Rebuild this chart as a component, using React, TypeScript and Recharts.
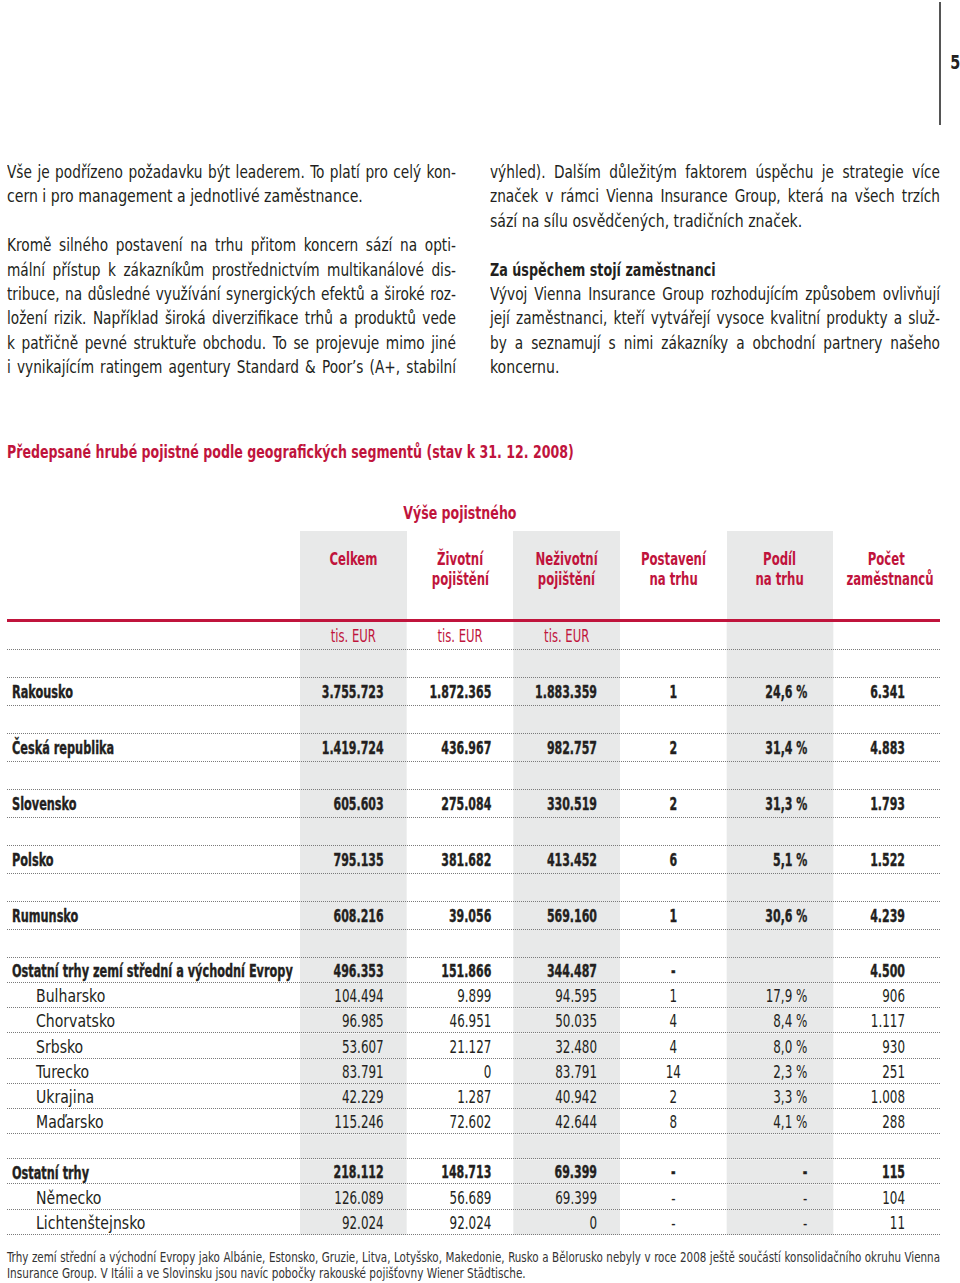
import React from "react";
import { BarChart, Bar, XAxis, YAxis } from "recharts";

const FONT = '"Liberation Sans Narrow", "Arial Narrow", "DejaVu Sans Condensed", sans-serif';
const RED = "#c0143c";
const GREY = "#e8e9e9";
const TEXT = "#231f20";
const DOT = "#7a7a7a";

// horizontal condensing factors (to imitate a condensed face)
const S_PROSE = 0.895;
const S_PROSE_J = 0.87;
const S_BOLD_HEAD = 0.81;
const S_TITLE = 0.80;
const S_COLHEAD = 0.765;
const S_UNIT = 0.76;
const S_NAME_BOLD = 0.74;
const S_NAME_REG = 0.92;
const S_NUM_BOLD = 0.72;
const S_NUM_REG = 0.78;
const S_FOOT = 0.865;
const S_FOOT_J = 0.85;

// ---------- data ----------
const regions = [
  "Rakousko",
  "Česká republika",
  "Slovensko",
  "Polsko",
  "Rumunsko",
  "Ostatní trhy zemí střední a východní Evropy",
  "Bulharsko",
  "Chorvatsko",
  "Srbsko",
  "Turecko",
  "Ukrajina",
  "Maďarsko",
  "Ostatní trhy",
  "Německo",
  "Lichtenštejnsko",
];
const regionLevel = [0, 0, 0, 0, 0, 0, 1, 1, 1, 1, 1, 1, 0, 1, 1];
const celkem = [3755723, 1419724, 605603, 795135, 608216, 496353, 104494, 96985, 53607, 83791, 42229, 115246, 218112, 126089, 92024];
const zivotni = [1872365, 436967, 275084, 381682, 39056, 151866, 9899, 46951, 21127, 0, 1287, 72602, 148713, 56689, 92024];
const nezivotni = [1883359, 982757, 330519, 413452, 569160, 344487, 94595, 50035, 32480, 83791, 40942, 42644, 69399, 69399, 0];
const postaveni: (number | string)[] = [1, 2, 2, 6, 1, "-", 1, 4, 4, 14, 2, 8, "-", "-", "-"];
const podil: (number | string | null)[] = [24.6, 31.4, 31.3, 5.1, 30.6, null, 17.9, 8.4, 8.0, 2.3, 3.3, 4.1, "-", "-", "-"];
const pocet = [6341, 4883, 1793, 1522, 4239, 4500, 906, 1117, 930, 251, 1008, 288, 115, 104, 11];

const columnHeaders = [["Celkem"], ["Životní", "pojištění"], ["Neživotní", "pojištění"], ["Postavení", "na trhu"], ["Podíl", "na trhu"], ["Počet", "zaměstnanců"]];
const columnUnits = ["tis. EUR", "tis. EUR", "tis. EUR", "", "", ""];

const leftParagraphs = [
  ["Vše je podřízeno požadavku být leaderem. To platí pro celý kon-", "cern i pro management a jednotlivé zaměstnance."],
  [
    "Kromě silného postavení na trhu přitom koncern sází na opti-",
    "mální přístup k zákazníkům prostřednictvím multikanálové dis-",
    "tribuce, na důsledné využívání synergických efektů a široké roz-",
    "ložení rizik. Například široká diverzifikace trhů a produktů vede",
    "k patřičně pevné struktuře obchodu. To se projevuje mimo jiné",
    "i vynikajícím ratingem agentury Standard & Poor’s (A+, stabilní",
  ],
];
const rightParagraphs = [
  ["výhled). Dalším důležitým faktorem úspěchu je strategie více", "značek v rámci Vienna Insurance Group, která na všech trzích", "sází na sílu osvědčených, tradičních značek."],
  [
    "Vývoj Vienna Insurance Group rozhodujícím způsobem ovlivňují",
    "její zaměstnanci, kteří vytvářejí vysoce kvalitní produkty a služ-",
    "by a seznamují s nimi zákazníky a obchodní partnery našeho",
    "koncernu.",
  ],
];
const rightHeading = "Za úspěchem stojí zaměstnanci";
const tableTitle = "Předepsané hrubé pojistné podle geografických segmentů (stav k 31. 12. 2008)";
const groupTitle = "Výše pojistného";
const footnote = [
  "Trhy zemí střední a východní Evropy jako Albánie, Estonsko, Gruzie, Litva, Lotyšsko, Makedonie, Rusko a Bělorusko nebyly v roce 2008 ještě součástí konsolidačního okruhu Vienna",
  "Insurance Group. V Itálii a ve Slovinsku jsou navíc pobočky rakouské pojišťovny Wiener Städtische.",
];
const pageNumber = "5";

// ---------- helpers ----------
const fmtInt = (n: number) => String(n).replace(/\B(?=(\d{3})+(?!\d))/g, ".");
const fmtVal = (v: number | string | null) => (v === null ? "" : typeof v === "string" ? v : fmtInt(v));
const fmtPct = (v: number | string | null) => (v === null ? "" : typeof v === "string" ? v : v.toFixed(1).replace(".", ",") + " %");

const columnGetters = [
  (i: number) => fmtVal(celkem[i]),
  (i: number) => fmtVal(zivotni[i]),
  (i: number) => fmtVal(nezivotni[i]),
  (i: number) => fmtVal(postaveni[i]),
  (i: number) => fmtPct(podil[i]),
  (i: number) => fmtVal(pocet[i]),
];
const colGrey = [true, false, true, false, true, false];
const colAnchor = ["end", "end", "end", "middle", "end", "end"];
const colPad = [23, 22, 23, 0, 26, 35];

type Slot = { id: string; kind: "unit" | "gap" | "row"; idx: number };

const slotsA: Slot[] = [{ id: "unit", kind: "unit", idx: -1 }, { id: "gA0", kind: "gap", idx: -1 }];
for (let i = 0; i <= 4; i++) {
  slotsA.push({ id: "r" + i, kind: "row", idx: i });
  slotsA.push({ id: "gA" + (i + 1), kind: "gap", idx: -1 });
}
const slotsB: Slot[] = [];
for (let i = 5; i <= 11; i++) slotsB.push({ id: "r" + i, kind: "row", idx: i });
slotsB.push({ id: "gB0", kind: "gap", idx: -1 });
for (let i = 12; i <= 14; i++) slotsB.push({ id: "r" + i, kind: "row", idx: i });

const SText = ({ x, y, s, anchor, size, weight, fill, children }: any) => (
  <text
    transform={`translate(${x} ${y}) scale(${s} 1)`}
    x={0}
    y={0}
    dy="0.38em"
    textAnchor={anchor}
    fontFamily={FONT}
    fontSize={size}
    fontWeight={weight}
    fill={fill}
    stroke={weight >= 700 ? fill : "none"}
    strokeWidth={weight >= 700 ? 0.35 : 0}
  >
    {children}
  </text>
);

const makeShape = (c: number) => (props: any) => {
  const { x, y, width, height, payload } = props;
  const slot = payload as Slot;
  let text = "";
  let fill = TEXT;
  let weight = 400;
  let s = S_NUM_REG;
  let anchor = colAnchor[c];
  let tx = colAnchor[c] === "middle" ? x + width / 2 : x + width - colPad[c];
  if (slot.kind === "unit") {
    text = columnUnits[c];
    fill = RED;
    anchor = "middle";
    tx = x + width / 2;
    s = S_UNIT;
  } else if (slot.kind === "row") {
    text = columnGetters[c](slot.idx);
    const bold = regionLevel[slot.idx] === 0;
    weight = bold ? 700 : 400;
    s = bold ? S_NUM_BOLD : S_NUM_REG;
  }
  const ly = Math.round(y + height) - 0.5;
  return (
    <g>
      {colGrey[c] && <rect x={x} y={y} width={width} height={height} fill={GREY} />}
      {text && (
        <SText x={tx} y={y + height / 2} s={s} anchor={anchor} size={17} weight={weight} fill={fill}>
          {text}
        </SText>
      )}
      {c === 5 && <line x1={7} x2={940} y1={ly} y2={ly} stroke={DOT} strokeWidth={1} strokeDasharray="1 1" />}
    </g>
  );
};

const makeTick = (slots: Slot[]) => (props: any) => {
  const { y, payload } = props;
  const slot = slots.find((s) => s.id === payload.value);
  if (!slot || slot.kind !== "row") return <g />;
  const sub = regionLevel[slot.idx] === 1;
  return (
    <SText x={sub ? 36 : 12} y={y} s={sub ? S_NAME_REG : S_NAME_BOLD} anchor="start" size={17} weight={sub ? 400 : 700} fill={TEXT}>
      {regions[slot.idx]}
    </SText>
  );
};

const TableChart = ({ slots, height }: { slots: Slot[]; height: number }) => (
  <BarChart
    width={960}
    height={height}
    data={slots}
    layout="vertical"
    margin={{ top: 0, right: 20, bottom: 0, left: 0 }}
    barCategoryGap={0}
    barGap={0}
  >
    <XAxis type="number" domain={[0, 6]} hide />
    <YAxis type="category" dataKey="id" width={300} axisLine={false} tickLine={false} interval={0} tick={makeTick(slots)} />
    {columnGetters.map((_, c) => (
      <Bar key={c} dataKey={() => 1} stackId="cols" isAnimationActive={false} shape={makeShape(c)} />
    ))}
  </BarChart>
);

const ProseLine = ({ text, width, justify, bold, lh }: { text: string; width: number; justify: boolean; bold?: boolean; lh: number }) => {
  const s = bold ? S_BOLD_HEAD : justify ? S_PROSE_J : S_PROSE;
  return (
    <div style={{ height: lh, position: "relative" }}>
      <div
        style={{
          position: "absolute",
          left: 0,
          top: 0,
          width: width / s,
          transform: `scaleX(${s})`,
          transformOrigin: "0 0",
          textAlign: justify ? "justify" : "left",
          textAlignLast: justify ? "justify" : "left",
          lineHeight: lh + "px",
          whiteSpace: justify ? "normal" : "nowrap",
          fontWeight: bold ? 700 : 400,
        }}
      >
        {text}
      </div>
    </div>
  );
};

const Column = ({ paras, heading, width }: { paras: string[][]; heading?: string; width: number }) => {
  const lh = 24.4;
  const out: React.ReactNode[] = [];
  paras.forEach((p, pi) => {
    if (pi > 0) out.push(<div key={"b" + pi} style={{ height: lh }} />);
    if (pi === 1 && heading) out.push(<ProseLine key="h" text={heading} width={width} justify={false} bold lh={lh} />);
    p.forEach((line, li) => {
      const justify = li < p.length - 1 || (pi === paras.length - 1 && li === p.length - 1 && line.length > 40);
      out.push(<ProseLine key={pi + "-" + li} text={line} width={width} justify={justify} lh={lh} />);
    });
  });
  return <>{out}</>;
};

const Scaled = ({ s, origin, children, style }: any) => (
  <span style={{ display: "inline-block", transform: `scaleX(${s})`, transformOrigin: origin, whiteSpace: "nowrap", ...style }}>{children}</span>
);

export default function App() {
  const colW = (940 - 300) / 6;
  return (
    <div
      style={{
        position: "absolute",
        left: 0,
        top: 0,
        width: 960,
        height: 1283,
        overflow: "hidden",
        background: "#fff",
        fontFamily: FONT,
        color: TEXT,
      }}
    >
      {/* page marker */}
      <div style={{ position: "absolute", left: 939, top: 2, width: 2, height: 123, background: "#555" }} />
      <div style={{ position: "absolute", left: 945, top: 50, width: 20, textAlign: "center", fontWeight: 700, fontSize: 20, lineHeight: "24px" }}>
        <Scaled s={0.8} origin="50% 50%">{pageNumber}</Scaled>
      </div>

      {/* prose */}
      <div style={{ position: "absolute", left: 7, top: 160, width: 449, fontSize: 17.5 }}>
        <Column paras={leftParagraphs} width={449} />
      </div>
      <div style={{ position: "absolute", left: 490, top: 160, width: 450, fontSize: 17.5 }}>
        <Column paras={rightParagraphs} heading={rightHeading} width={450} />
      </div>

      {/* table title */}
      <div style={{ position: "absolute", left: 7, top: 440, fontSize: 17.5, fontWeight: 700, color: RED, lineHeight: "24px", whiteSpace: "nowrap" }}>
        <Scaled s={S_TITLE} origin="0 0">{tableTitle}</Scaled>
      </div>
      <div style={{ position: "absolute", left: 300, top: 501, width: colW * 3, textAlign: "center", fontSize: 17.5, fontWeight: 700, color: RED, lineHeight: "24px" }}>
        <Scaled s={S_TITLE} origin="50% 50%">{groupTitle}</Scaled>
      </div>

      {/* header columns */}
      {columnHeaders.map((h, c) => (
        <div
          key={c}
          style={{
            position: "absolute",
            left: 300 + c * colW,
            top: 531,
            width: colW,
            height: 91,
            background: colGrey[c] ? GREY : "transparent",
          }}
        >
          <div style={{ paddingTop: 18, textAlign: "center", fontSize: 17, fontWeight: 700, color: RED, lineHeight: "20px" }}>
            {h.map((l, k) => (
              <div key={k}>
                <Scaled s={S_COLHEAD} origin="50% 50%">{l}</Scaled>
              </div>
            ))}
          </div>
        </div>
      ))}
      <div style={{ position: "absolute", left: 7, top: 619, width: 933, height: 3, background: RED }} />

      {/* table body */}
      <div style={{ position: "absolute", left: 0, top: 622 }}>
        <TableChart slots={slotsA} height={336} />
      </div>
      <div style={{ position: "absolute", left: 0, top: 958 }}>
        <TableChart slots={slotsB} height={277} />
      </div>

      {/* footnote */}
      <div style={{ position: "absolute", left: 7, top: 1249, width: 933, fontSize: 13.5, lineHeight: "16px", color: "#333" }}>
        <div style={{ height: 16, position: "relative" }}>
          <div
            style={{
              position: "absolute",
              left: 0,
              top: 0,
              width: 933 / S_FOOT_J,
              transform: `scaleX(${S_FOOT_J})`,
              transformOrigin: "0 0",
              textAlign: "justify",
              textAlignLast: "justify",
            }}
          >
            {footnote[0]}
          </div>
        </div>
        <div style={{ height: 16 }}>
          <Scaled s={S_FOOT} origin="0 0">{footnote[1]}</Scaled>
        </div>
      </div>
    </div>
  );
}
